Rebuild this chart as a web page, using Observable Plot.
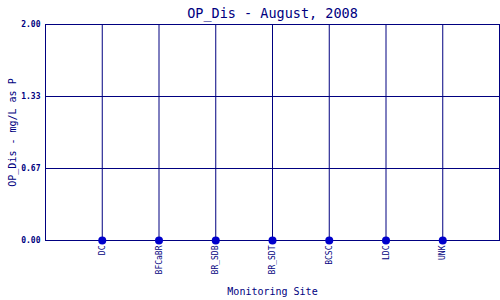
<!DOCTYPE html>
<html><head><meta charset="utf-8">
<script src="https://cdn.jsdelivr.net/npm/d3@7"></script>
<script src="https://cdn.jsdelivr.net/npm/@observablehq/plot@0.6"></script>
<style>body{margin:0;background:#fff}</style>
</head><body><div id="chart"></div>
<script>
const sites = ["DC", "BFCaBR", "BR_SDB", "BR_SDT", "BCSC", "LDC", "UNK"];
const values = [0, 0, 0, 0, 0, 0, 0];
const yTicks = [0, 2/3, 4/3, 2];
const title = "OP_Dis - August, 2008";
const xLabel = "Monitoring Site";
const yLabel = "OP_Dis - mg/L as P";

const data = sites.map((s, i) => ({site: s, value: values[i]}));
const navy = "#000080";
const mono = "DejaVu Sans Mono";

const chart = Plot.plot({
  width: 500, height: 300,
  marginLeft: 45, marginRight: 1, marginTop: 24, marginBottom: 60,
  style: {fontFamily: mono, background: "#fff"},
  x: {type: "point", domain: sites, padding: 1, round: false, label: null},
  y: {domain: [0, 2], label: null},
  marks: [
    Plot.gridX(sites, {stroke: navy, strokeOpacity: 1, strokeWidth: 1}),
    Plot.gridY(yTicks, {stroke: navy, strokeOpacity: 1, strokeWidth: 1}),
    Plot.frame({stroke: navy, strokeWidth: 1}),
    Plot.axisY(yTicks, {tickSize: 0, tickPadding: 5, tickFormat: d => d.toFixed(2), fontSize: 8, fontWeight: "bold", fill: navy, label: null}),
    Plot.axisX(sites, {tickSize: 0, tickPadding: 5, tickRotate: -90, fontSize: 8, fill: navy, label: null}),
    Plot.dot(data, {x: "site", y: "value", r: 4, fill: "#0000CC", stroke: "none"}),
    Plot.text([title], {frameAnchor: "top", dy: -16, text: d => d, fontSize: 13.5, fill: navy}),
    Plot.text([xLabel], {frameAnchor: "bottom", dy: 54, text: d => d, fontSize: 10, fill: navy}),
    Plot.text([yLabel], {frameAnchor: "left", textAnchor: "middle", dx: -33, rotate: -90, text: d => d, fontSize: 10, fill: navy})
  ]
});
document.getElementById("chart").appendChild(chart);
</script>
</body></html>
